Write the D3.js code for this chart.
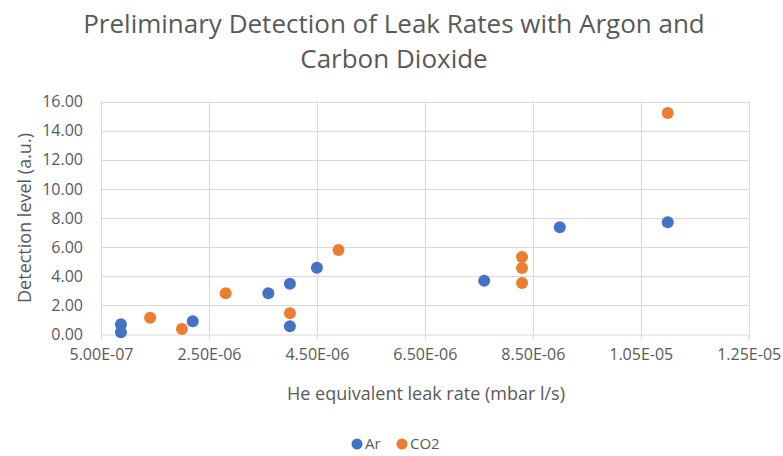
<!DOCTYPE html>
<html>
<head>
<meta charset="utf-8">
<script src="https://cdn.jsdelivr.net/npm/d3@7"></script>
<style>
  body { margin: 0; background: #fff; }
  text { font-family: "Open Sans", "Noto Sans", sans-serif; fill: #595959; }
</style>
</head>
<body>
<svg id="chart" width="783" height="456"></svg>
<script>
// data
const arX  = [8.7e-7, 8.7e-7, 2.2e-6, 3.6e-6, 4.0e-6, 4.0e-6, 4.5e-6, 7.6e-6, 9.0e-6, 1.1e-5];
const arY  = [0.69, 0.14, 0.89, 2.82, 3.48, 0.55, 4.58, 3.69, 7.36, 7.70];
const co2X = [1.41e-6, 2.0e-6, 2.81e-6, 4.0e-6, 4.9e-6, 8.3e-6, 8.3e-6, 8.3e-6, 1.1e-5];
const co2Y = [1.14, 0.36, 2.82, 1.44, 5.80, 5.32, 4.56, 3.53, 15.22];
const xTicks = [5e-7, 2.5e-6, 4.5e-6, 6.5e-6, 8.5e-6, 1.05e-5, 1.25e-5];
const yTicks = [0, 2, 4, 6, 8, 10, 12, 14, 16];

const series = [
  {name: 'Ar',  color: '#4472C4', x: arX,  y: arY},
  {name: 'CO2', color: '#ED7D31', x: co2X, y: co2Y}
];

const svg = d3.select('#chart');
const x = d3.scaleLinear().domain([5e-7, 1.25e-5]).range([101, 748.7]);
const y = d3.scaleLinear().domain([0, 16]).range([334.3, 101.7]);

// title, two lines
svg.append('text').attr('x', 394).attr('y', 33).attr('text-anchor', 'middle')
  .style('font-size', '26px').text('Preliminary Detection of Leak Rates with Argon and');
svg.append('text').attr('x', 394).attr('y', 68).attr('text-anchor', 'middle')
  .style('font-size', '26px').text('Carbon Dioxide');

// gridlines
const grid = svg.append('g');
grid.selectAll('.gy').data(yTicks.slice(1)).enter().append('line')
  .attr('x1', x.range()[0]).attr('x2', x.range()[1])
  .attr('y1', d => Math.round(y(d)) + 0.5).attr('y2', d => Math.round(y(d)) + 0.5)
  .attr('stroke', '#d9d9d9').attr('stroke-width', 1);
grid.selectAll('.gx').data(xTicks).enter().append('line')
  .attr('x1', d => Math.round(x(d)) + 0.5).attr('x2', d => Math.round(x(d)) + 0.5)
  .attr('y1', y.range()[1]).attr('y2', y.range()[0])
  .attr('stroke', '#d9d9d9').attr('stroke-width', 1);

// x axis
const xAxis = d3.axisBottom(x).tickValues(xTicks).tickSize(5).tickPadding(9)
  .tickFormat(d => {
    const s = d.toExponential(2).toUpperCase();
    return s.replace(/E([+-])(\d)$/, 'E$10$2').replace('E+', 'E');
  });
const gx = svg.append('g').attr('transform', `translate(0,${Math.round(y(0)) + 0.5})`).call(xAxis);
gx.select('.domain').attr('stroke', '#d9d9d9');
gx.selectAll('.tick line').attr('stroke', '#d9d9d9');
gx.selectAll('text').style('font-size', '16px').attr('fill', '#595959');

// y axis
const yAxis = d3.axisLeft(y).tickValues(yTicks).tickSize(0).tickPadding(18)
  .tickFormat(d3.format('.2f'));
const gy = svg.append('g').attr('transform', `translate(${x.range()[0]},0)`).call(yAxis);
gy.select('.domain').remove();
gy.selectAll('text').style('font-size', '16px').attr('fill', '#595959');

// axis titles
svg.append('text').attr('x', 426).attr('y', 400).attr('text-anchor', 'middle')
  .style('font-size', '18px').text('He equivalent leak rate (mbar l/s)');
svg.append('text').attr('transform', 'translate(31,218) rotate(-90)').attr('text-anchor', 'middle')
  .style('font-size', '18px').text('Detection level (a.u.)');

// points
series.forEach(s => {
  svg.append('g').selectAll('circle').data(s.x.map((v, i) => [v, s.y[i]])).enter()
    .append('circle')
    .attr('cx', d => x(d[0])).attr('cy', d => y(d[1])).attr('r', 6)
    .attr('fill', s.color);
});

// legend
const leg = svg.append('g').attr('transform', 'translate(357,444)');
series.forEach((s, i) => {
  const g = leg.append('g').attr('transform', `translate(${i * 45},0)`);
  g.append('circle').attr('cx', 0).attr('cy', 0).attr('r', 5.5).attr('fill', s.color);
  g.append('text').attr('x', 8).attr('y', 5).style('font-size', '15px').text(s.name);
});
</script>
</body>
</html>
